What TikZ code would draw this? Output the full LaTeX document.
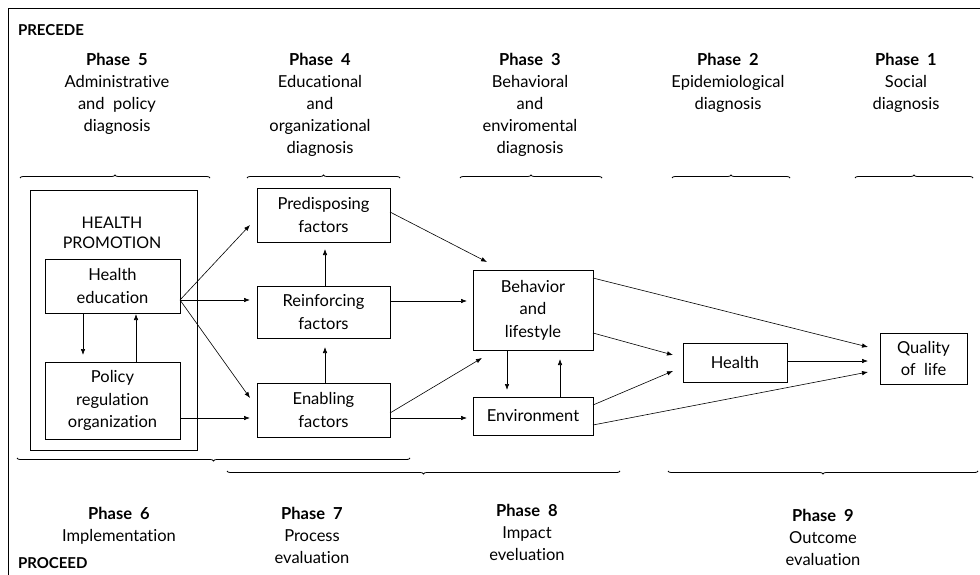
\documentclass[tikz,border=0pt]{standalone}
\usepackage{fontspec}
\setmainfont{Lato}[Ligatures={NoCommon,NoRare}]
\usetikzlibrary{arrows.meta,calc,decorations.pathreplacing}
\begin{document}
\begin{tikzpicture}[x=1pt,y=-1pt,
  every node/.style={inner sep=0pt, outer sep=0pt},
  txt/.style={font=\fontsize{16.5}{22}\selectfont, align=center},
  hdr/.style={txt, anchor=north},
  bx/.style={draw, line width=0.6pt, txt, font=\fontsize{16.5}{22.5}\selectfont},
  arr/.style={line width=0.6pt, -{Latex[length=6pt,width=4.5pt]}},
  brc/.style={line width=0.8pt, decorate, decoration={brace, amplitude=3pt, aspect=0.5}},
  frm/.style={line width=0.8pt}]
\useasboundingbox (0,0) rectangle (980,575);
% frame
\coordinate (ftl) at (8,8);
\coordinate (ftr) at (980,8);
\coordinate (fbl) at (8,575);
\draw[frm] (ftr) -- (ftl) -- (fbl);
% labels
\node[font=\fontsize{15}{18}\selectfont\bfseries, anchor=west] (precede) at (18,30) {PRECEDE};
\node[font=\fontsize{15}{18}\selectfont\bfseries, anchor=west] (proceed) at (18,563) {PROCEED};
% phase headers (top)
\node[hdr] (p5) at (117,53) {\textbf{Phase\ \ 5}\\Administrative\\and\ \ policy\\diagnosis};
\node[hdr] (p4) at (320,53) {\textbf{Phase\ \ 4}\\Educational\\and\\organizational\\diagnosis};
\node[hdr] (p3) at (530,53) {\textbf{Phase\ \ 3}\\Behavioral\\and\\enviromental\\diagnosis};
\node[hdr] (p2) at (728,53) {\textbf{Phase\ \ 2}\\Epidemiological\\diagnosis};
\node[hdr] (p1) at (906,53) {\textbf{Phase\ \ 1}\\Social\\diagnosis};
% top braces
\coordinate (b5a) at (20,178); \coordinate (b5b) at (210,178);
\coordinate (b4a) at (247,178); \coordinate (b4b) at (400,178);
\coordinate (b3a) at (460,178); \coordinate (b3b) at (602,178);
\coordinate (b2a) at (672,178); \coordinate (b2b) at (790,178);
\coordinate (b1a) at (855,178); \coordinate (b1b) at (973,178);
\draw[brc] (b5a) -- (b5b);
\draw[brc] (b4a) -- (b4b);
\draw[brc] (b3a) -- (b3b);
\draw[brc] (b2a) -- (b2b);
\draw[brc] (b1a) -- (b1b);
% bottom braces
\coordinate (b6a) at (17,458); \coordinate (b6b) at (410,458);
\coordinate (b7a) at (227,471); \coordinate (b7b) at (620,471);
\coordinate (b9a) at (668,471); \coordinate (b9b) at (978,471);
\draw[brc] (b6b) -- (b6a);
\draw[brc] (b7b) -- (b7a);
\draw[brc] (b9b) -- (b9a);
% phase headers (bottom)
\node[hdr] (p6) at (119,507) {\textbf{Phase\ \ 6}\\Implementation};
\node[hdr] (p7) at (312,507) {\textbf{Phase\ \ 7}\\Process\\evaluation};
\node[hdr] (p8) at (527,504) {\textbf{Phase\ \ 8}\\Impact\\eveluation};
\node[hdr] (p9) at (823,509) {\textbf{Phase\ \ 9}\\Outcome\\evaluation};
% health promotion
\node[draw, line width=0.6pt, minimum width=167pt, minimum height=260pt] (hp) at (113.5,320) {};
\node[txt, font=\fontsize{16}{20}\selectfont] (hpt) at (112,233) {HEALTH\\PROMOTION};
\node[bx, minimum width=135pt, minimum height=54pt] (he) at (112.5,286) {Health\\education};
\node[bx, minimum width=135pt, minimum height=77pt] (pol) at (112.5,400.5) {Policy\\regulation\\organization};
% factors
\node[bx, minimum width=133pt, minimum height=54pt] (pre) at (323.5,215) {Predisposing\\factors};
\node[bx, minimum width=133pt, minimum height=52pt] (rei) at (323.5,312) {Reinforcing\\factors};
\node[bx, minimum width=133pt, minimum height=54pt] (ena) at (323.5,410) {Enabling\\factors};
\node[bx, minimum width=120pt, minimum height=80pt] (beh) at (533,310) {Behavior\\and\\lifestyle};
\node[bx, minimum width=120pt, minimum height=38pt] (env) at (533,416) {Environment};
\node[bx, minimum width=104pt, minimum height=39pt] (hea) at (735,362.5) {Health};
\node[bx, minimum width=87pt, minimum height=51pt] (qol) at (923.5,358.5) {Quality\\of\ \ life};
% arrows
\draw[arr] ($(he.east)+(0,14)$) -- ($(pre.west)+(-7,10)$);
\draw[arr] ($(he.east)+(0,14)$) -- ($(rei.west)+(-7,-12)$);
\draw[arr] ($(he.east)+(0,14)$) -- ($(ena.west)+(-7,-12)$);
\draw[arr] ($(pol.east)+(0,17.5)$) -- ($(ena.west)+(-7,8)$);
\draw[arr] ($(he.south)+(-29.5,0)$) -- ($(pol.north)+(-29.5,-7)$);
\draw[arr] ($(pol.north)+(23.5,0)$) -- ($(he.south)+(23.5,1)$);
\draw[arr] ($(rei.north)+(1.5,0)$) -- ($(pre.south)+(1.5,7)$);
\draw[arr] ($(ena.north)+(1.5,0)$) -- ($(rei.south)+(1.5,9)$);
\draw[arr] ($(pre.east)+(0,-3)$) -- ($(beh.north west)+(14,-8)$);
\draw[arr] ($(rei.east)+(0,-11)$) -- ($(beh.west)+(-6,-9)$);
\draw[arr] ($(ena.east)+(0,3)$) -- ($(beh.south west)+(9,8)$);
\draw[arr] ($(ena.east)+(0,8)$) -- ($(env.west)+(-6,2)$);
\draw[arr] ($(beh.south)+(-26,0)$) -- ($(env.north)+(-26,-7)$);
\draw[arr] ($(env.north)+(27,0)$) -- ($(beh.south)+(27,9)$);
\draw[arr] ($(beh.east)+(0,-32)$) -- ($(qol.west)+(-12,-11.5)$);
\draw[arr] ($(beh.east)+(0,23)$) -- ($(hea.west)+(-10,-7.5)$);
\draw[arr] ($(env.east)+(0,-11)$) -- ($(hea.west)+(-10,8.5)$);
\draw[arr] ($(hea.east)+(0,-1.5)$) -- ($(qol.west)+(-12,2.5)$);
\draw[arr] ($(env.east)+(0,9)$) -- ($(qol.west)+(-12,13.5)$);
\end{tikzpicture}
\end{document}
